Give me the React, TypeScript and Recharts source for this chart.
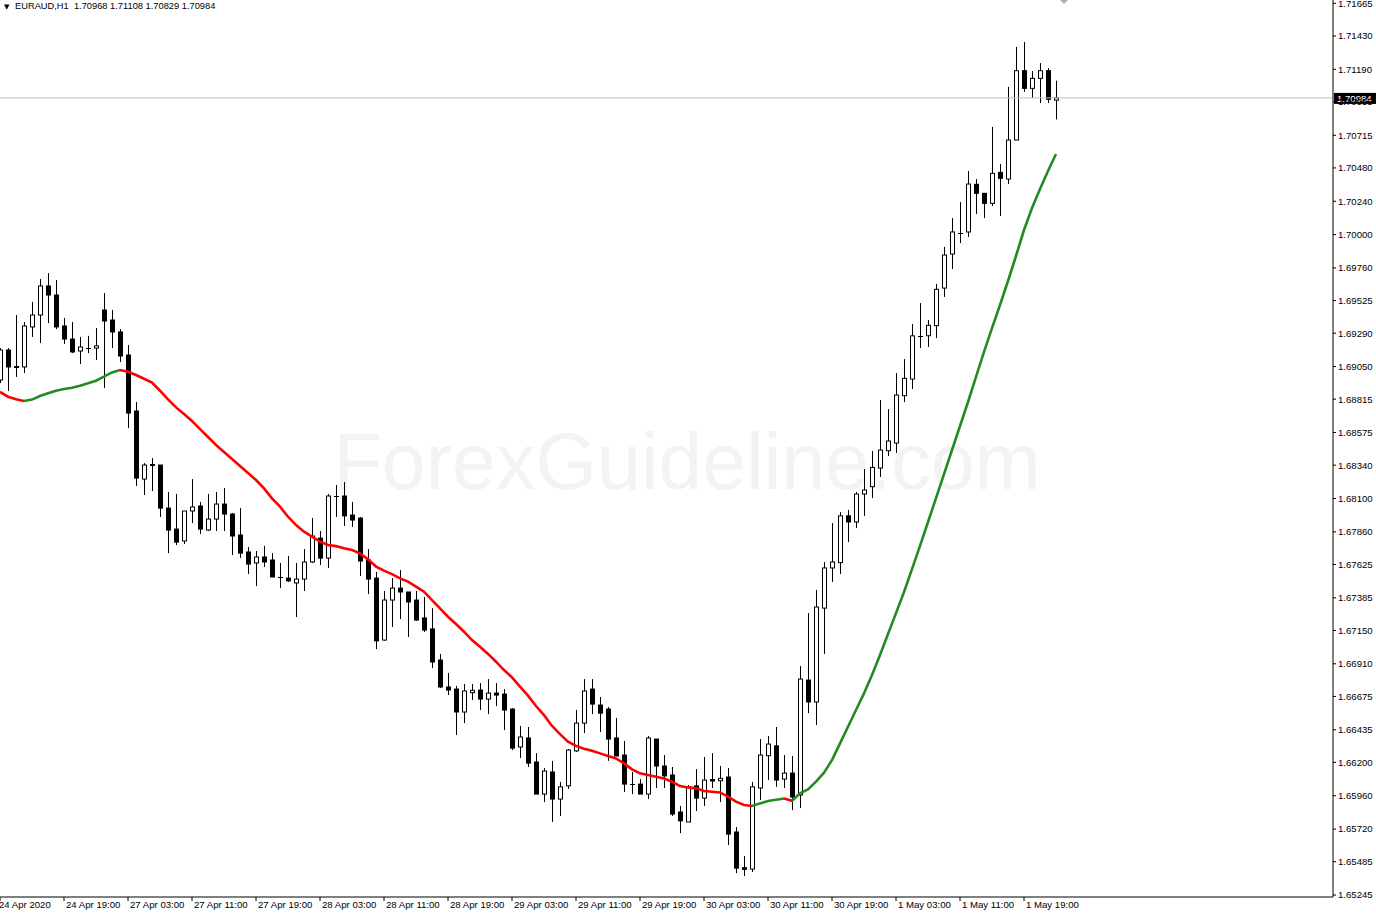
import React from "react";
import { ComposedChart, Bar, Line, XAxis, YAxis, ReferenceLine } from "recharts";

const FONT = '"Liberation Sans", Arial, sans-serif';
const CHART_W = 1376;
const CHART_H = 918;
const AXIS_W = 43;
const AXIS_H = 21;
const BAR_PX = 8;
const GREEN = "#228b22";
const RED = "#ff0000";

const header = "EURAUD,H1  1.70968 1.71108 1.70829 1.70984";
const lastPrice = 1.70984;

// time labels every 8 bars (H1)
const tickBars = [0, 8, 16, 24, 32, 40, 48, 56, 64, 72, 80, 88, 96, 104, 112, 120, 128];
const timeLabels = [
    "24 Apr 2020", "24 Apr 19:00", "27 Apr 03:00", "27 Apr 11:00", "27 Apr 19:00",
    "28 Apr 03:00", "28 Apr 11:00", "28 Apr 19:00", "29 Apr 03:00", "29 Apr 11:00",
    "29 Apr 19:00", "30 Apr 03:00", "30 Apr 11:00", "30 Apr 19:00", "1 May 03:00",
    "1 May 11:00", "1 May 19:00",
];

const priceTicks = [
    1.71665, 1.7143, 1.7119, 1.70955, 1.70715, 1.7048, 1.7024, 1.7, 1.6976, 1.69525,
    1.6929, 1.6905, 1.68815, 1.68575, 1.6834, 1.681, 1.6786, 1.67625, 1.67385, 1.6715,
    1.6691, 1.66675, 1.66435, 1.662, 1.6596, 1.6572, 1.65485, 1.65245,
];

const opens = [
    1.68953, 1.69169, 1.69043, 1.69047, 1.69335, 1.69421, 1.69630, 1.69565, 1.69342, 1.69248,
    1.69162, 1.69180, 1.69183, 1.69457, 1.69385, 1.69299, 1.69133, 1.68730, 1.68240, 1.68345,
    1.68341, 1.68031, 1.67880, 1.67794, 1.68010, 1.68046, 1.67873, 1.67952, 1.68060, 1.67988,
    1.67837, 1.67715, 1.67636, 1.67679, 1.67657, 1.67538, 1.67527, 1.67492, 1.67520, 1.67643,
    1.67815, 1.67671, 1.68115, 1.68118, 1.67981, 1.67959, 1.67657, 1.67527, 1.67081, 1.67369,
    1.67455, 1.67427, 1.67369, 1.67240, 1.67161, 1.66937, 1.66743, 1.66728, 1.66563, 1.66702,
    1.66721, 1.66656, 1.66699, 1.66692, 1.66584, 1.66311, 1.66376, 1.66203, 1.65972, 1.66131,
    1.65936, 1.66031, 1.66283, 1.66483, 1.66728, 1.66613, 1.66584, 1.66376, 1.66253, 1.66044,
    1.66044, 1.65972, 1.66368, 1.66174, 1.66109, 1.65843, 1.65771, 1.66031, 1.65943, 1.66077,
    1.66068, 1.66095, 1.65699, 1.65442, 1.65432, 1.66016, 1.66248, 1.66319, 1.66080, 1.66123,
    1.65965, 1.66793, 1.66635, 1.67311, 1.67600, 1.67638, 1.67975, 1.67931, 1.68132, 1.68185,
    1.68319, 1.68444, 1.68499, 1.68840, 1.68960, 1.69271, 1.69272, 1.69344, 1.69615, 1.69860,
    1.70008, 1.70019, 1.70362, 1.70297, 1.70225, 1.70448, 1.70400, 1.70681, 1.71180, 1.71053,
    1.71125, 1.71180, 1.70968,
];

const highs = [
    1.69183, 1.69183, 1.69421, 1.69371, 1.69515, 1.69680, 1.69723, 1.69673, 1.69399, 1.69371,
    1.69263, 1.69271, 1.69327, 1.69579, 1.69457, 1.69320, 1.69205, 1.68795, 1.68355, 1.68391,
    1.68341, 1.68147, 1.68132, 1.68010, 1.68240, 1.68075, 1.68132, 1.68147, 1.68175, 1.67996,
    1.68031, 1.67751, 1.67722, 1.67759, 1.67707, 1.67636, 1.67686, 1.67636, 1.67736, 1.67959,
    1.67866, 1.68132, 1.68197, 1.68219, 1.68075, 1.67967, 1.67736, 1.67571, 1.67434, 1.67527,
    1.67585, 1.67427, 1.67434, 1.67391, 1.67311, 1.66981, 1.66844, 1.66751, 1.66764, 1.66764,
    1.66771, 1.66800, 1.66771, 1.66728, 1.66591, 1.66462, 1.66455, 1.66267, 1.66159, 1.66211,
    1.66059, 1.66296, 1.66577, 1.66800, 1.66800, 1.66671, 1.66599, 1.66519, 1.66354, 1.66131,
    1.66080, 1.66390, 1.66368, 1.66253, 1.66167, 1.65886, 1.66037, 1.66152, 1.66239, 1.66267,
    1.66174, 1.66159, 1.65735, 1.65526, 1.66059, 1.66368, 1.66390, 1.66455, 1.66253, 1.66246,
    1.66894, 1.67275, 1.67441, 1.67643, 1.67923, 1.68003, 1.68017, 1.68147, 1.68312, 1.68442,
    1.68809, 1.68744, 1.69003, 1.69104, 1.69356, 1.69507, 1.69385, 1.69644, 1.69911, 1.70119,
    1.70235, 1.70458, 1.70400, 1.70300, 1.70775, 1.70508, 1.71063, 1.71351, 1.71387, 1.71178,
    1.71235, 1.71199, 1.71108,
];

const lows = [
    1.68931, 1.68874, 1.68975, 1.69003, 1.69263, 1.69219, 1.69363, 1.69320, 1.69212, 1.69147,
    1.69068, 1.69147, 1.69097, 1.68895, 1.69183, 1.69083, 1.68607, 1.68190, 1.68125, 1.68154,
    1.67967, 1.67707, 1.67765, 1.67772, 1.67923, 1.67844, 1.67866, 1.67866, 1.67866, 1.67693,
    1.67671, 1.67556, 1.67470, 1.67607, 1.67535, 1.67455, 1.67499, 1.67247, 1.67434, 1.67636,
    1.67621, 1.67600, 1.67967, 1.67902, 1.67895, 1.67542, 1.67412, 1.67016, 1.67075, 1.67175,
    1.67232, 1.67103, 1.67219, 1.67139, 1.66879, 1.66735, 1.66685, 1.66397, 1.66483, 1.66649,
    1.66577, 1.66548, 1.66606, 1.66433, 1.66289, 1.66231, 1.66167, 1.65972, 1.65915, 1.65771,
    1.65814, 1.66009, 1.66275, 1.66411, 1.66548, 1.66419, 1.66211, 1.66246, 1.65987, 1.65972,
    1.65972, 1.65936, 1.66016, 1.66016, 1.65814, 1.65691, 1.65771, 1.65850, 1.65886, 1.66016,
    1.65915, 1.65605, 1.65403, 1.65382, 1.65411, 1.65929, 1.66073, 1.66024, 1.66016, 1.65857,
    1.65871, 1.66555, 1.66469, 1.66981, 1.67499, 1.67556, 1.67786, 1.67887, 1.67975, 1.68103,
    1.68255, 1.68406, 1.68427, 1.68795, 1.68888, 1.69183, 1.69191, 1.69255, 1.69551, 1.69752,
    1.69939, 1.69983, 1.70148, 1.70119, 1.70206, 1.70134, 1.70364, 1.70681, 1.71027, 1.70984,
    1.70947, 1.70947, 1.70829,
];

const closes = [
    1.69169, 1.69047, 1.69050, 1.69342, 1.69421, 1.69630, 1.69565, 1.69335, 1.69248, 1.69155,
    1.69191, 1.69183, 1.69199, 1.69378, 1.69299, 1.69126, 1.68715, 1.68247, 1.68341, 1.68338,
    1.68031, 1.67873, 1.67786, 1.68010, 1.68039, 1.67880, 1.67952, 1.68060, 1.67988, 1.67830,
    1.67707, 1.67628, 1.67679, 1.67643, 1.67535, 1.67535, 1.67507, 1.67520, 1.67643, 1.67830,
    1.67671, 1.68118, 1.68112, 1.67975, 1.67945, 1.67650, 1.67520, 1.67075, 1.67369, 1.67455,
    1.67427, 1.67355, 1.67225, 1.67153, 1.66923, 1.66743, 1.66721, 1.66563, 1.66714, 1.66719,
    1.66656, 1.66699, 1.66685, 1.66577, 1.66303, 1.66383, 1.66195, 1.65972, 1.66138, 1.65936,
    1.66024, 1.66289, 1.66483, 1.66714, 1.66620, 1.66555, 1.66368, 1.66246, 1.66044, 1.66041,
    1.65972, 1.66376, 1.66174, 1.66103, 1.65828, 1.65779, 1.66024, 1.65943, 1.66073, 1.66066,
    1.66085, 1.65684, 1.65439, 1.65430, 1.66024, 1.66253, 1.66332, 1.66073, 1.66123, 1.65951,
    1.66800, 1.66635, 1.67319, 1.67600, 1.67643, 1.67975, 1.67931, 1.68132, 1.68161, 1.68324,
    1.68449, 1.68514, 1.68845, 1.68965, 1.69271, 1.69273, 1.69347, 1.69606, 1.69853, 1.70019,
    1.70012, 1.70364, 1.70297, 1.70225, 1.70441, 1.70405, 1.70681, 1.71180, 1.71053, 1.71125,
    1.71180, 1.70974, 1.70984,
];

// moving average, red while falling, green while rising
const maValues = [
    1.68867, 1.68833, 1.68814, 1.68802, 1.68812, 1.68838, 1.68857, 1.68876, 1.68888, 1.68898,
    1.68912, 1.68929, 1.68948, 1.68977, 1.69008, 1.69025, 1.69013, 1.68989, 1.68962, 1.68934,
    1.68876, 1.68814, 1.68756, 1.68708, 1.68658, 1.68600, 1.68543, 1.68485, 1.68435, 1.68384,
    1.68334, 1.68283, 1.68233, 1.68173, 1.68101, 1.68041, 1.67969, 1.67909, 1.67861, 1.67825,
    1.67789, 1.67765, 1.67757, 1.67742, 1.67729, 1.67705, 1.67662, 1.67610, 1.67581, 1.67556,
    1.67525, 1.67502, 1.67465, 1.67429, 1.67369, 1.67309, 1.67249, 1.67196, 1.67141, 1.67081,
    1.67033, 1.66981, 1.66925, 1.66865, 1.66812, 1.66745, 1.66681, 1.66606, 1.66541, 1.66462,
    1.66404, 1.66349, 1.66319, 1.66299, 1.66284, 1.66265, 1.66246, 1.66229, 1.66193, 1.66150,
    1.66121, 1.66109, 1.66097, 1.66085, 1.66061, 1.66030, 1.66020, 1.66013, 1.65994, 1.65989,
    1.65984, 1.65953, 1.65917, 1.65893, 1.65886, 1.65905, 1.65922, 1.65931, 1.65940, 1.65924,
    1.65977, 1.66006, 1.66061, 1.66126, 1.66217, 1.66337, 1.66457, 1.66577, 1.66697, 1.66829,
    1.66973, 1.67124, 1.67275, 1.67427, 1.67592, 1.67759, 1.67931, 1.68103, 1.68276, 1.68449,
    1.68622, 1.68795, 1.68975, 1.69155, 1.69327, 1.69493, 1.69666, 1.69846, 1.70033, 1.70191,
    1.70328, 1.70458, 1.70580,
];

const rows = opens.map((o, i) => ({
    i,
    range: [lows[i], highs[i]],
    open: o,
    high: highs[i],
    low: lows[i],
    close: closes[i],
    ma: maValues[i],
}));

const lastIdx = maValues.length - 1;
const maStops = maValues.slice(1).flatMap((v, j) => {
    const c = v >= maValues[j] ? GREEN : RED;
    return [
        { o: j / lastIdx, c },
        { o: (j + 1) / lastIdx, c },
    ];
});

function Candle(props: any) {
    const { x, y, width, height, payload } = props;
    if (!payload) return null;
    const top = Math.min(y, y + height);
    const h = Math.abs(height);
    const span = payload.high - payload.low;
    const k = span > 0 ? h / span : 0;
    const oy = top + (payload.high - payload.open) * k;
    const cy = top + (payload.high - payload.close) * k;
    const cx = Math.round(x + width / 2);
    const bull = payload.close >= payload.open;
    const bodyTop = Math.min(oy, cy);
    const bodyH = Math.abs(cy - oy);
    return (
        <g>
            <line x1={cx + 0.5} x2={cx + 0.5} y1={top} y2={top + h} stroke="#000" strokeWidth={1} />
            {bodyH < 0.8 ? (
                <line x1={cx - 2} x2={cx + 3} y1={Math.round(oy) + 0.5} y2={Math.round(oy) + 0.5} stroke="#000" strokeWidth={1} />
            ) : (
                <rect x={cx - 1.5} y={bodyTop} width={4} height={bodyH} fill={bull ? "#fff" : "#000"} stroke="#000" strokeWidth={1} />
            )}
        </g>
    );
}

function TimeTick(props: any) {
    const { x, y, payload } = props;
    const idx = tickBars.indexOf(payload.value);
    // the first label is pushed slightly past the left edge, as in the terminal
    const dx = idx === 0 ? -1 : 2;
    return (
        <text x={x + dx} y={y + 7} fontSize={9.6} fontFamily={FONT} fill="#000" textAnchor="start">
            {timeLabels[idx]}
        </text>
    );
}

function PriceTag(props: any) {
    const vb = props.viewBox;
    if (!vb) return null;
    const left = vb.x + vb.width + 1;
    return (
        <g>
            <rect x={left} y={vb.y - 5} width={42} height={11} fill="#000" />
            <text x={left + 3} y={vb.y + 0.5} dy="0.355em" fontSize={9.6} fontFamily={FONT} fill="#fff">
                {lastPrice.toFixed(5)}
            </text>
        </g>
    );
}

export default function App() {
    const plotW = CHART_W - AXIS_W;
    return (
        <div style={{ position: "absolute", left: 0, top: 0, width: CHART_W, height: CHART_H, background: "#fff" }}>
            <svg width={CHART_W} height={CHART_H} style={{ position: "absolute", left: 0, top: 0 }}>
                <text x={687} y={489} textAnchor="middle" fontSize={79} fontFamily={FONT} fill="#f3f3f3">
                    ForexGuideline.com
                </text>
            </svg>
            <div style={{ position: "absolute", left: 0, top: 0 }}>
                <ComposedChart width={CHART_W} height={CHART_H} data={rows} margin={{ top: 0, right: 0, bottom: 0, left: 0 }}>
                    <defs>
                        <linearGradient id="maGrad" x1="0" y1="0" x2="1" y2="0">
                            {maStops.map((s, idx) => (
                                <stop key={idx} offset={s.o} stopColor={s.c} />
                            ))}
                        </linearGradient>
                    </defs>
                    <XAxis
                        dataKey="i"
                        type="number"
                        domain={[0, plotW / BAR_PX]}
                        allowDataOverflow
                        ticks={tickBars}
                        interval={0}
                        height={AXIS_H}
                        tickSize={4}
                        tickMargin={0}
                        axisLine={{ stroke: "#000" }}
                        tickLine={{ stroke: "#000" }}
                        tick={(p: any) => <TimeTick {...p} />}
                    />
                    <YAxis
                        orientation="right"
                        type="number"
                        domain={[1.65231, 1.71689]}
                        allowDataOverflow
                        ticks={priceTicks}
                        interval={0}
                        width={AXIS_W}
                        tickSize={3}
                        tickMargin={2}
                        axisLine={{ stroke: "#000" }}
                        tickLine={{ stroke: "#000" }}
                        tick={{ fontSize: 9.6, fill: "#000", fontFamily: FONT }}
                        tickFormatter={(v: number) => v.toFixed(5)}
                    />
                    <ReferenceLine y={lastPrice} stroke="#c0c0c0" strokeWidth={1} label={<PriceTag />} />
                    <Bar dataKey="range" barSize={5} shape={(p: any) => <Candle {...p} />} isAnimationActive={false} />
                    <Line
                        dataKey="ma"
                        type="linear"
                        stroke="url(#maGrad)"
                        strokeWidth={2.6}
                        dot={false}
                        activeDot={false}
                        isAnimationActive={false}
                    />
                </ComposedChart>
            </div>
            <svg width={CHART_W} height={24} style={{ position: "absolute", left: 0, top: 0, pointerEvents: "none" }}>
                <text x={4} y={9} fontSize={7} fontFamily="DejaVu Sans" fill="#000">▼</text>
                <text x={15} y={9.3} fontSize={9.3} fontFamily={FONT} fill="#000" style={{ whiteSpace: "pre" }}>
                    {header}
                </text>
                <polygon points="1060,0 1068,0 1064,4" fill="#b0b0b0" />
            </svg>
        </div>
    );
}
